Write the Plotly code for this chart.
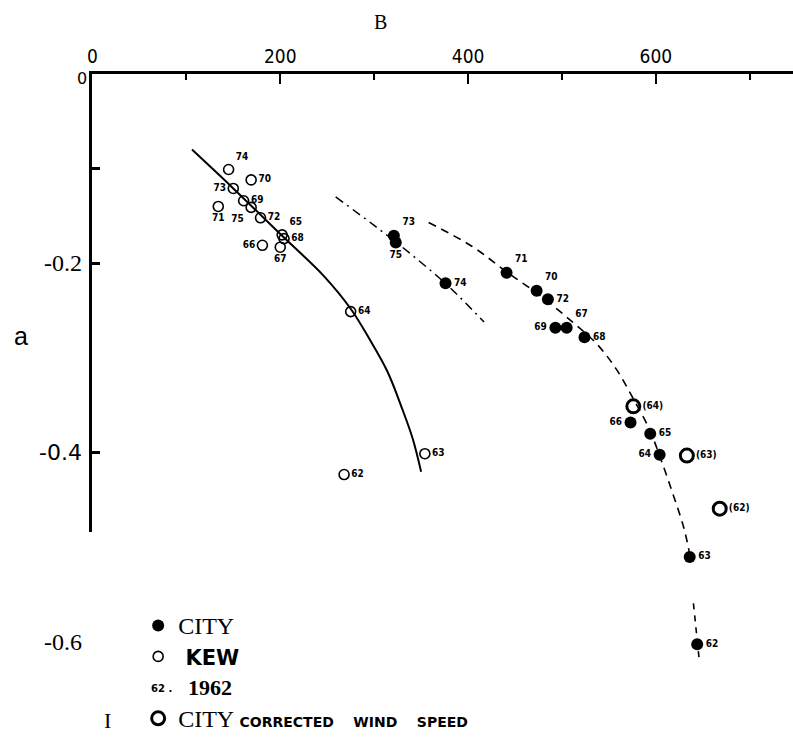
import plotly.graph_objects as go

W, H = 793, 739
# pixel mapping of the original figure (used only to size axes)
X0PX, XSCALE = 88, 0.945      # px of x=0, px per unit
Y0PX, YSCALE = 74, 950        # px of y=0, px per unit
YAXIS_BOTTOM_PX = 533

# ---------------- data ----------------
kew_labels = ["74", "70", "73", "71", "69", "75", "72", "65", "68", "67", "66", "64", "63", "62"]
kew_x = [145, 169, 150, 134, 161, 169, 179, 202, 204, 200, 181, 275, 354, 268]
kew_y = [-0.101, -0.112, -0.121, -0.140, -0.134, -0.141, -0.152, -0.170, -0.174, -0.183, -0.181, -0.251, -0.401, -0.423]

city_labels = ["73", "75", "74", "71", "70", "72", "69", "67", "68", "66", "65", "64", "63", "62"]
city_x = [321, 323, 376, 441, 473, 485, 493, 505, 524, 573, 594, 604, 636, 644]
city_y = [-0.171, -0.178, -0.221, -0.210, -0.229, -0.238, -0.268, -0.268, -0.278, -0.368, -0.380, -0.402, -0.510, -0.602]

corr_labels = ["(64)", "(63)", "(62)"]
corr_x = [576, 633, 668]
corr_y = [-0.351, -0.403, -0.459]

# fitted curves
kew_fit_x = [106, 150, 202, 246, 275, 295, 314, 330, 341, 350]
kew_fit_y = [-0.080, -0.121, -0.171, -0.213, -0.248, -0.280, -0.314, -0.354, -0.385, -0.420]

city7375_fit_x = [259, 300, 340, 380, 417]
city7375_fit_y = [-0.130, -0.160, -0.191, -0.225, -0.262]

city_fit_x = [358, 404, 441, 478, 510, 537, 558, 576, 593, 605, 618, 630, 637]
city_fit_y = [-0.157, -0.182, -0.209, -0.235, -0.261, -0.285, -0.312, -0.343, -0.375, -0.406, -0.443, -0.480, -0.512]
city_fit2_x = [640, 646]
city_fit2_y = [-0.559, -0.617]

x_tickvals = [0, 200, 400, 600]
x_ticktext = ["0", "200", "400", "600"]
x_minor = [100, 300, 500, 700]
y_tickvals = [-0.1, -0.2, -0.4]
y_labels = ["-0.2", "-0.4", "-0.6"]
y_label_vals = [-0.2, -0.4, -0.6]

# ---------------- styles ----------------
kew_pos = ["top right", "middle right", "middle left", "bottom center", "middle right", "bottom left",
           "middle right", "top right", "middle right", "bottom center", "middle left", "middle right",
           "middle right", "middle right"]
city_pos = ["top right", "bottom center", "middle right", "top right", "top right", "middle right",
            "middle left", "top right", "middle right", "middle left", "middle right", "middle left",
            "middle right", "middle right"]
LBL = dict(family="DejaVu Sans Condensed, DejaVu Sans", size=10, color="black", weight="bold")
NB = "\u00a0"

def px2paper(px, py):
    return px / W, 1 - py / H

fig = go.Figure()

# curves
fig.add_trace(go.Scatter(x=kew_fit_x, y=kew_fit_y, mode="lines", line=dict(color="black", width=2, shape="spline"),
                         showlegend=False, hoverinfo="skip"))
fig.add_trace(go.Scatter(x=city7375_fit_x, y=city7375_fit_y, mode="lines",
                         line=dict(color="black", width=1.5, dash="9px,5px,2px,5px", shape="spline"),
                         showlegend=False, hoverinfo="skip"))
fig.add_trace(go.Scatter(x=city_fit_x, y=city_fit_y, mode="lines",
                         line=dict(color="black", width=1.6, dash="8px,6px", shape="spline"),
                         showlegend=False, hoverinfo="skip"))
fig.add_trace(go.Scatter(x=city_fit2_x, y=city_fit2_y, mode="lines",
                         line=dict(color="black", width=1.6, dash="6px,6px"),
                         showlegend=False, hoverinfo="skip"))

# points
fig.add_trace(go.Scatter(x=city_x, y=city_y, mode="markers+text", text=city_labels, textposition=city_pos,
                         textfont=LBL, marker=dict(symbol="circle", size=12, color="black"),
                         name="<span style='font-family:Liberation Serif;font-size:24px'>CITY</span>",
                         cliponaxis=False))
fig.add_trace(go.Scatter(x=kew_x, y=kew_y, mode="markers+text", text=kew_labels, textposition=kew_pos,
                         textfont=LBL, marker=dict(symbol="circle-open", size=10, color="black", line=dict(width=1.6)),
                         name="<span style='font-family:DejaVu Sans;font-size:21px'><b>" + NB + "KEW</b></span>",
                         cliponaxis=False))
fig.add_trace(go.Scatter(x=[None], y=[None], mode="markers", marker=dict(size=1, opacity=0),
                         name=NB))
fig.add_trace(go.Scatter(x=corr_x, y=corr_y, mode="markers+text", text=corr_labels, textposition="middle right",
                         textfont=LBL, marker=dict(symbol="circle-open", size=13, color="black", line=dict(width=3)),
                         name="<span style='font-family:Liberation Serif;font-size:24px'>CITY</span>" + NB +
                              "<span style='font-family:DejaVu Sans;font-size:14px'><b>CORRECTED" + NB * 4 +
                              "WIND" + NB * 4 + "SPEED</b></span>",
                         cliponaxis=False))

# frame axes helper trace
fig.add_trace(go.Scatter(x=[0], y=[0], xaxis="x2", yaxis="y2", mode="markers",
                         marker=dict(opacity=0), showlegend=False, hoverinfo="skip"))

xr = [-X0PX / XSCALE, (W - X0PX) / XSCALE]
yr = [-(H - Y0PX) / YSCALE, Y0PX / YSCALE]

fig.update_layout(
    width=W, height=H, margin=dict(l=0, r=0, t=0, b=0),
    paper_bgcolor="white", plot_bgcolor="rgba(0,0,0,0)",
    xaxis=dict(domain=[0, 1], range=xr, visible=False, fixedrange=True),
    yaxis=dict(domain=[0, 1], range=yr, visible=False, fixedrange=True),
    xaxis2=dict(domain=[X0PX / W, 1], range=[0, xr[1]], anchor="y2", side="top",
                showline=True, linecolor="black", linewidth=2.5, showgrid=False, zeroline=False,
                ticks="inside", ticklen=10, tickwidth=2, tickcolor="black",
                tickvals=x_tickvals, ticktext=x_ticktext,
                tickfont=dict(family="DejaVu Sans Condensed, DejaVu Sans", size=19, color="black"),
                minor=dict(tickvals=x_minor, ticks="inside", ticklen=6, tickwidth=1.5, tickcolor="black")),
    yaxis2=dict(domain=[1 - YAXIS_BOTTOM_PX / H, 1 - Y0PX / H], range=[-(YAXIS_BOTTOM_PX - Y0PX) / YSCALE, 0],
                anchor="x2", showline=True, linecolor="black", linewidth=2.5, showgrid=False, zeroline=False,
                ticks="inside", ticklen=8, tickwidth=2.5, tickcolor="black", tickvals=y_tickvals,
                showticklabels=False),
    legend=dict(x=px2paper(134, 0)[0], y=px2paper(0, 607)[1], xanchor="left", yanchor="top",
                bgcolor="rgba(0,0,0,0)", font=dict(family="Liberation Serif", size=21.5, color="black"),
                tracegroupgap=0, itemwidth=30),
    showlegend=True,
)

ann = []
def add_text(txt, px, py, family, size, bold=False, xanchor="center"):
    x, y = px2paper(px, py)
    ann.append(dict(text=("<b>%s</b>" % txt) if bold else txt, x=x, y=y, xref="paper", yref="paper",
                    showarrow=False, xanchor=xanchor, yanchor="middle",
                    font=dict(family=family, size=size, color="black")))

add_text("B", 378, 22, "Liberation Serif", 20)
add_text("a", 16, 337, "Liberation Sans", 25)
add_text("0", 77, 79, "DejaVu Sans", 16)
fonts_y = [("Liberation Serif", 24, False), ("DejaVu Sans", 22, False), ("Liberation Serif", 24, False)]
for lab, v, (fam, sz, b) in zip(y_labels, y_label_vals, fonts_y):
    add_text(lab, 80, Y0PX - v * YSCALE, fam, sz, b, xanchor="right")
add_text("62 .", 157, 690, "DejaVu Sans", 10, True)
add_text("1962", 182, 689, "Liberation Serif", 22, True, xanchor="left")
add_text("I", 103, 722, "Liberation Serif", 22)
fig.update_layout(annotations=ann)

fig.write_html("out.html")
